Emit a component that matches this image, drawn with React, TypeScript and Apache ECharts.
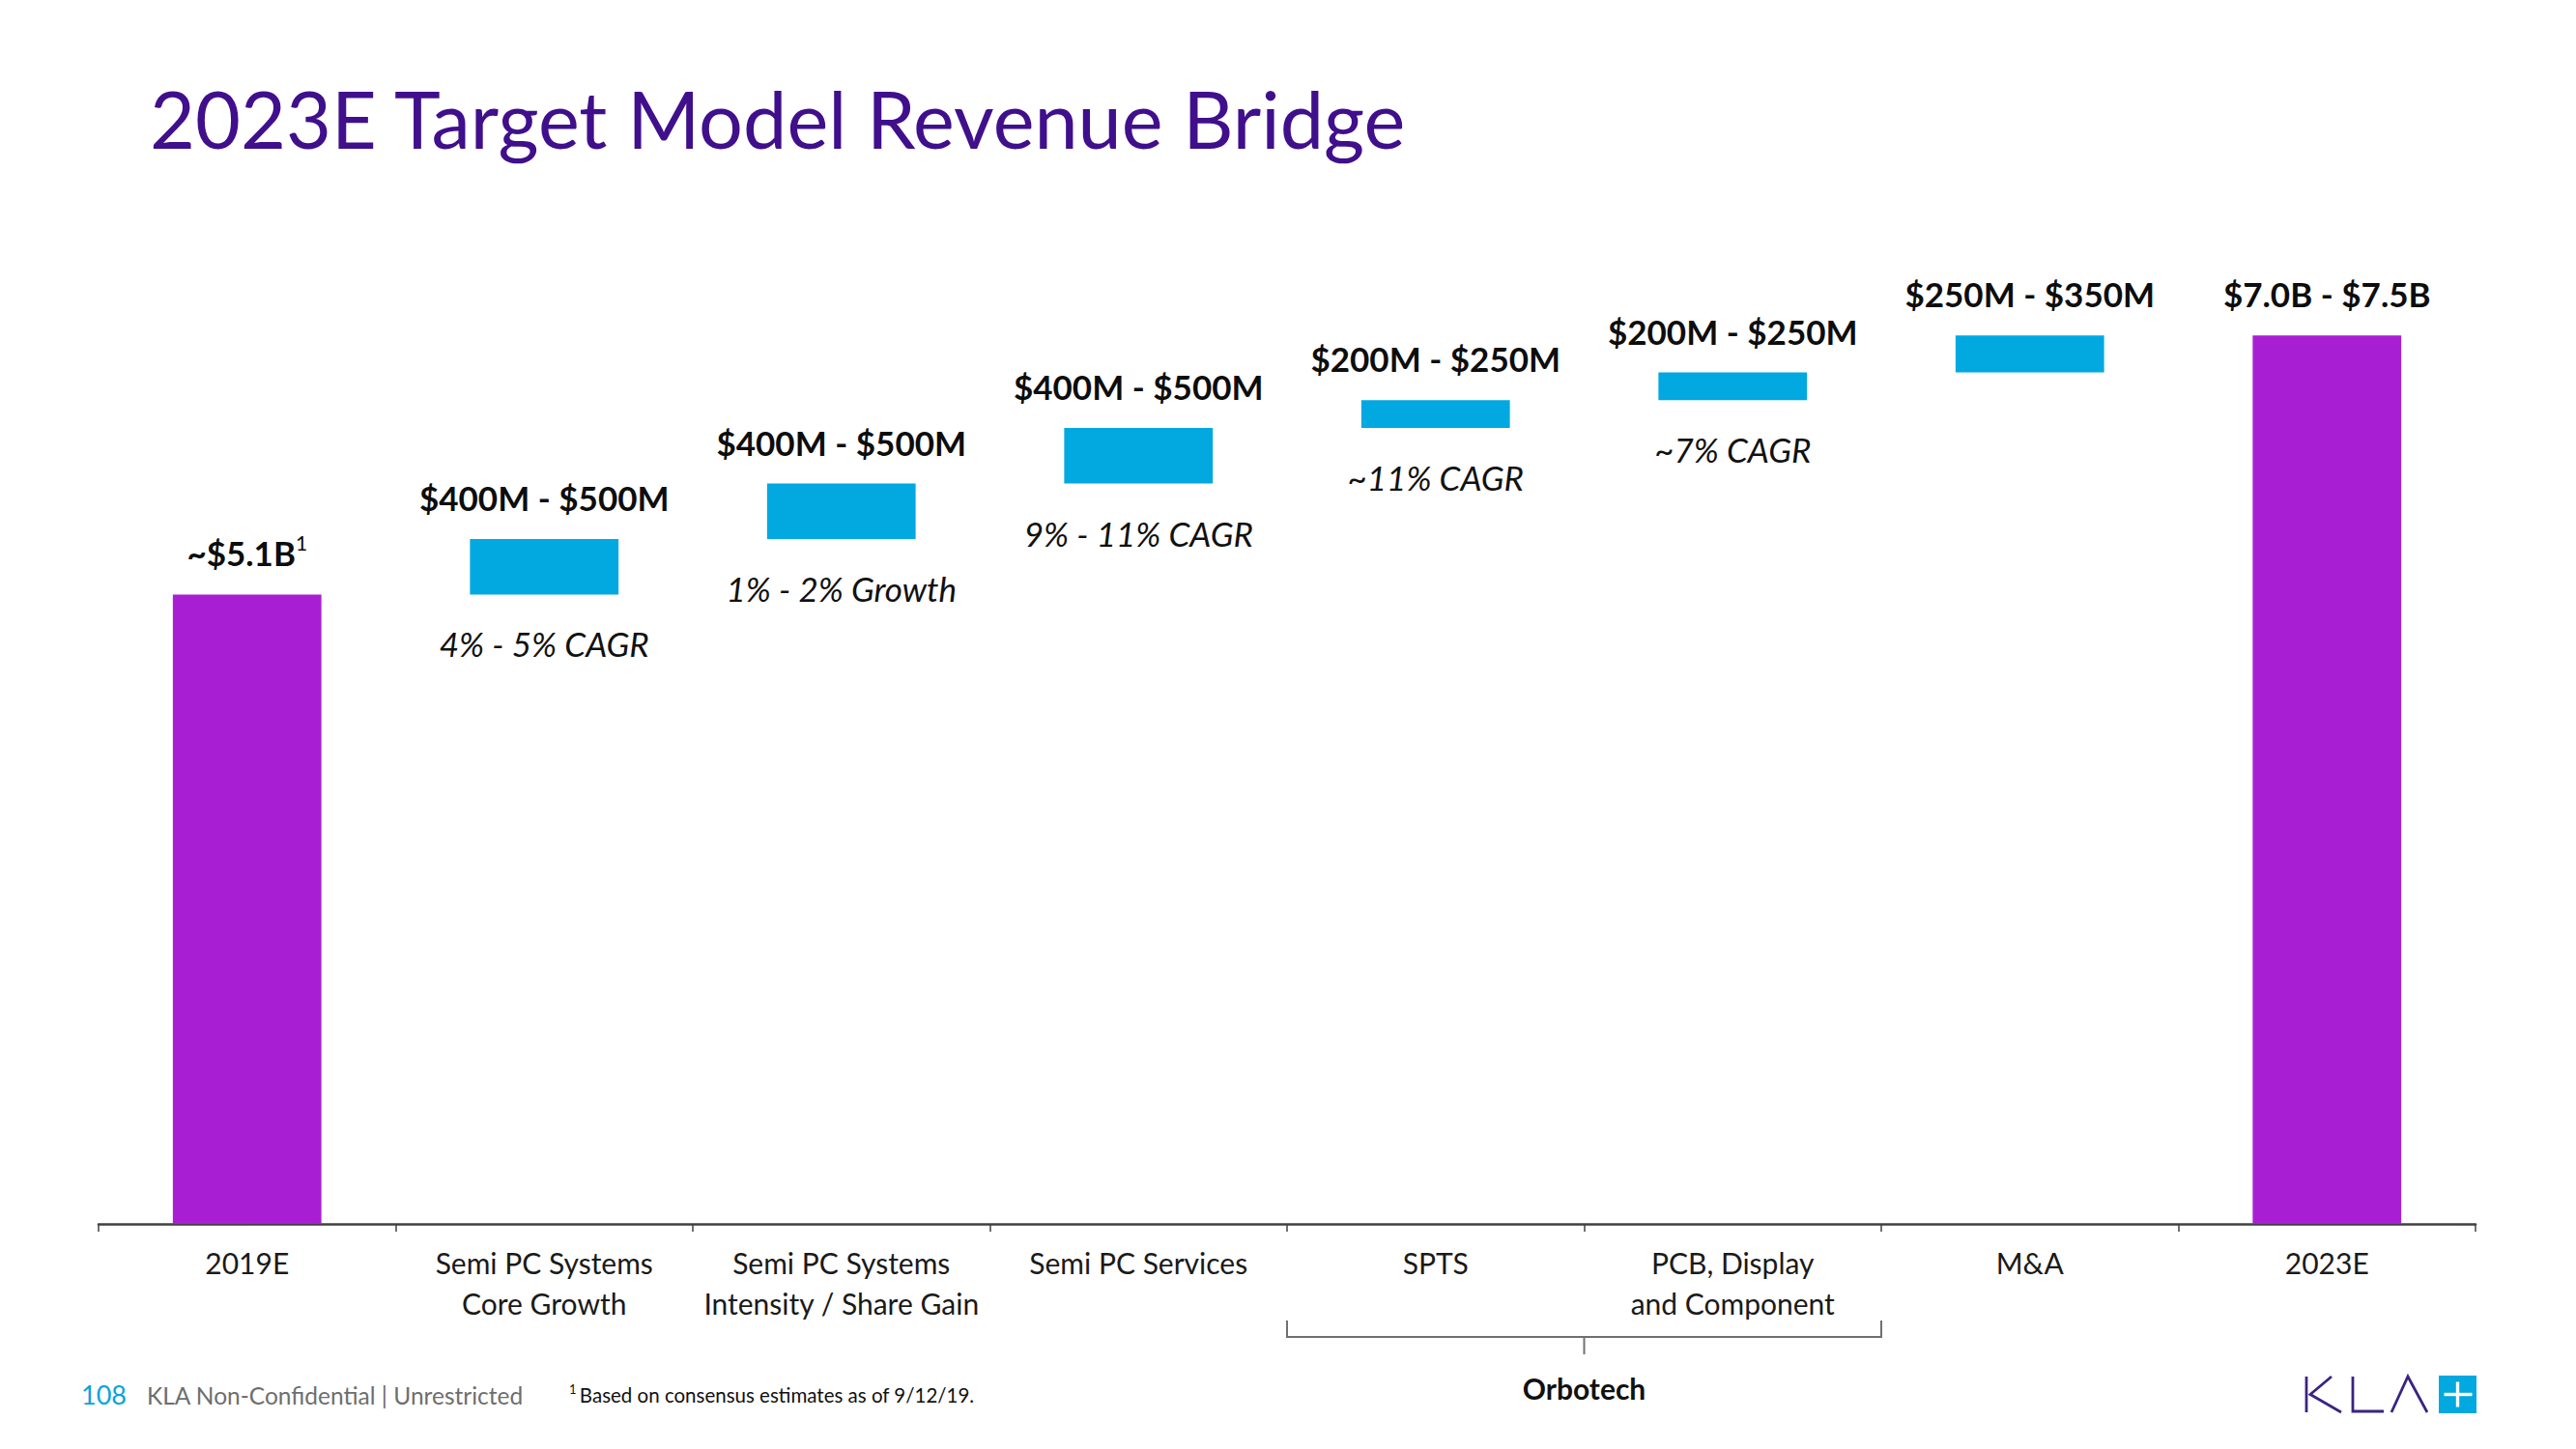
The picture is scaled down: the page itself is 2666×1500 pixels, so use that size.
import React, { useEffect, useRef } from "react";
import * as echarts from "echarts";

const categories = [
  "2019E",
  "Semi PC Systems\nCore Growth",
  "Semi PC Systems\nIntensity / Share Gain",
  "Semi PC Services",
  "SPTS",
  "PCB, Display\nand Component",
  "M&A",
  "2023E",
];
const deltas = [5.1, 0.45, 0.45, 0.45, 0.225, 0.225, 0.3, 7.2];
const isTotal = [true, false, false, false, false, false, false, true];
const rangeLabels = [
  "~$5.1B",
  "$400M - $500M",
  "$400M - $500M",
  "$400M - $500M",
  "$200M - $250M",
  "$200M - $250M",
  "$250M - $350M",
  "$7.0B - $7.5B",
];
const growthLabels = ["", "4% - 5% CAGR", "1% - 2% Growth", "9% - 11% CAGR", "~11% CAGR", "~7% CAGR", "", ""];

const PURPLE = "#A81FD3";
const BLUE = "#02A8E0";
const FONT = "Lato";

const GRID_LEFT = 102;
const GRID_RIGHT = 104;
const GRID_TOP = 245;
const GRID_BOTTOM = 233;

export default function App() {
  const ref = useRef<HTMLDivElement>(null);
  useEffect(() => {
    if (!ref.current) return;
    const chart = echarts.init(ref.current, undefined, { renderer: "svg" });

    const bases: number[] = [];
    let run = 0;
    deltas.forEach((d, i) => {
      if (isTotal[i]) {
        bases.push(0);
        run = d;
      } else {
        bases.push(run);
        run += d;
      }
    });

    const W = 2666;
    const plotW = W - GRID_LEFT - GRID_RIGHT;
    const catW = plotW / categories.length;
    const bx = (i: number) => GRID_LEFT + i * catW;
    const bLeft = bx(4);
    const bRight = bx(6);
    const bMid = (bLeft + bRight) / 2;

    const logoColor = "#3B2382";

    chart.setOption({
      animation: false,
      backgroundColor: "#ffffff",
      title: {
        text: "2023E Target Model Revenue Bridge",
        left: 150,
        top: 77,
        textStyle: { fontFamily: FONT, fontSize: 81, fontWeight: "normal", color: "#400F8C", lineHeight: 81 },
      },
      grid: { left: GRID_LEFT, right: GRID_RIGHT, top: GRID_TOP, bottom: GRID_BOTTOM },
      xAxis: {
        type: "category",
        data: categories,
        axisLine: { show: true, lineStyle: { color: "#404040", width: 2.5 } },
        axisTick: { show: true, length: 8, lineStyle: { color: "#404040", width: 1.5 } },
        axisLabel: {
          fontFamily: FONT,
          fontSize: 30,
          color: "#1a1a1a",
          lineHeight: 42,
          margin: 19,
          interval: 0,
        },
      },
      yAxis: { type: "value", min: 0, max: 8, show: false, splitLine: { show: false } },
      series: [
        {
          type: "bar",
          stack: "w",
          barWidth: "50%",
          data: bases,
          itemStyle: { color: "rgba(0,0,0,0)" },
          silent: true,
          label: {
            show: true,
            position: "insideTop",
            distance: 30,
            fontFamily: FONT,
            fontStyle: "italic",
            fontSize: 35,
            lineHeight: 42,
            color: "#111111",
            formatter: (p: any) => growthLabels[p.dataIndex] || "",
          },
        },
        {
          type: "bar",
          stack: "w",
          barWidth: "50%",
          data: deltas.map((d, i) => ({ value: d, itemStyle: { color: isTotal[i] ? PURPLE : BLUE } })),
          label: {
            show: true,
            position: "top",
            distance: 22,
            formatter: (p: any) =>
              p.dataIndex === 0
                ? `{v|${rangeLabels[p.dataIndex]}}{sup|1}`
                : `{v|${rangeLabels[p.dataIndex]}}`,
            rich: {
              v: { fontFamily: FONT, fontWeight: "bold", fontSize: 35, color: "#0d0d0d", lineHeight: 42 },
              sup: { fontFamily: FONT, fontWeight: "normal", fontSize: 21, color: "#0d0d0d", verticalAlign: "top", lineHeight: 26 },
            },
          },
        },
      ],
      graphic: [
        // Orbotech bracket
        {
          type: "polyline",
          shape: { points: [[bLeft, 1367], [bLeft, 1384], [bRight, 1384], [bRight, 1367]] },
          style: { stroke: "#707070", lineWidth: 2, fill: null },
        },
        {
          type: "line",
          shape: { x1: bMid, y1: 1384, x2: bMid, y2: 1402 },
          style: { stroke: "#707070", lineWidth: 2 },
        },
        {
          type: "text",
          x: bMid,
          y: 1437,
          style: { text: "Orbotech", fontFamily: FONT, fontWeight: "bold", fontSize: 30, fill: "#111111", align: "center", verticalAlign: "middle" },
        },
        // footer
        {
          type: "text",
          x: 84,
          y: 1443,
          style: { text: "108", fontFamily: FONT, fontSize: 27, fill: "#0AA3DB", verticalAlign: "middle" },
        },
        {
          type: "text",
          x: 152,
          y: 1444,
          style: { text: "KLA Non-Confidential | Unrestricted", fontFamily: FONT, fontSize: 24.5, fill: "#6E6E6E", verticalAlign: "middle" },
        },
        {
          type: "text",
          x: 589,
          y: 1444,
          style: {
            text: "{s|1} {t|Based on consensus estimates as of 9/12/19.}",
            verticalAlign: "middle",
            rich: {
              s: { fontFamily: FONT, fontSize: 13, fill: "#111111", verticalAlign: "top", lineHeight: 14 },
              t: { fontFamily: FONT, fontSize: 20.5, fill: "#111111", lineHeight: 25 },
            },
          },
        },
        // KLA logo
        {
          type: "line",
          shape: { x1: 2387, y1: 1425, x2: 2387, y2: 1462 },
          style: { stroke: logoColor, lineWidth: 2.8 },
        },
        {
          type: "polyline",
          shape: { points: [[2413, 1425], [2391, 1443.5], [2423, 1462]] },
          style: { stroke: logoColor, lineWidth: 2.8, fill: null },
        },
        {
          type: "polyline",
          shape: { points: [[2435, 1425], [2435, 1461], [2467, 1461]] },
          style: { stroke: logoColor, lineWidth: 2.8, fill: null },
        },
        {
          type: "polyline",
          shape: { points: [[2475, 1462], [2492, 1425], [2512, 1462]] },
          style: { stroke: logoColor, lineWidth: 2.8, fill: null },
        },
        {
          type: "rect",
          shape: { x: 2524, y: 1424, width: 39, height: 39 },
          style: { fill: BLUE },
        },
        {
          type: "line",
          shape: { x1: 2543.5, y1: 1430.5, x2: 2543.5, y2: 1456.5 },
          style: { stroke: "#ffffff", lineWidth: 3.4 },
        },
        {
          type: "line",
          shape: { x1: 2529.5, y1: 1443.5, x2: 2558.5, y2: 1443.5 },
          style: { stroke: "#ffffff", lineWidth: 3.4 },
        },
      ],
    });
    return () => chart.dispose();
  }, []);

  return (
    <div
      ref={ref}
      style={{ position: "fixed", left: 0, top: 0, width: 2666, height: 1500, background: "#fff" }}
    />
  );
}
